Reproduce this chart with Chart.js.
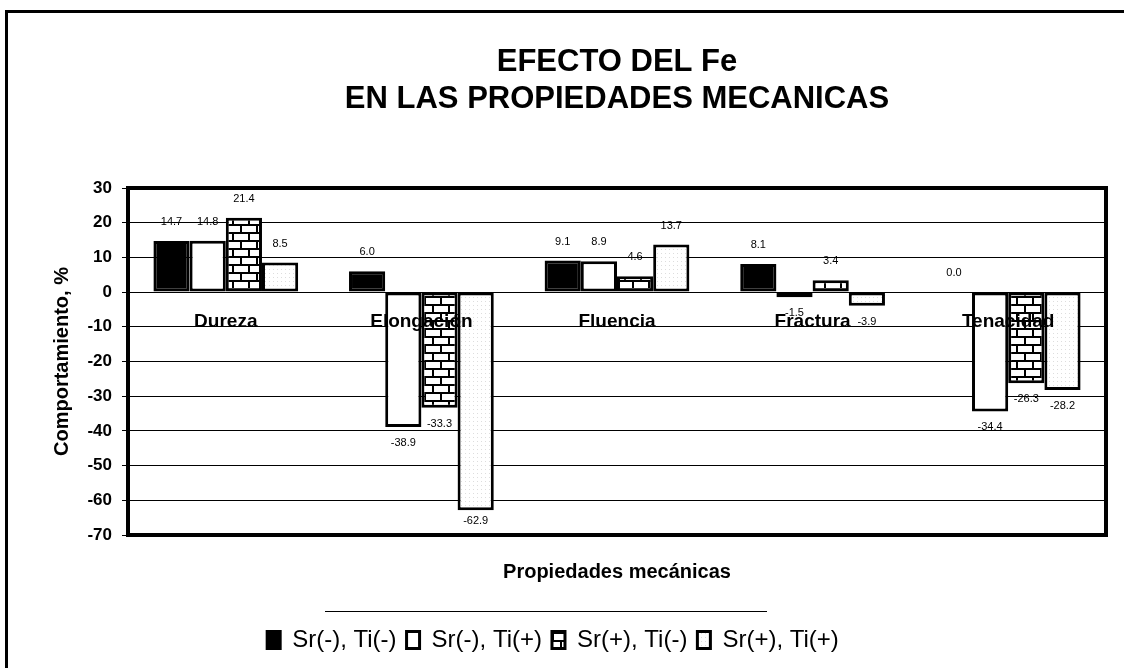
<!DOCTYPE html>
<html>
<head>
<meta charset="utf-8">
<script src="https://cdn.jsdelivr.net/npm/chart.js@4.4.0/dist/chart.umd.min.js"></script>
<style>
    html, body { margin: 0; padding: 0; background: #fff; overflow: hidden; }
    #wrap { position: relative; width: 1124px; height: 668px; }
    #frame { position: absolute; left: 5px; top: 10px; width: 1200px; height: 700px; border-top: 3px solid #000; border-left: 3px solid #000; }
    #legendRule { position: absolute; left: 325px; top: 611px; width: 442px; border-top: 1px solid #000; }
    canvas { position: absolute; left: 0; top: 0; }
</style>
</head>
<body>
<div id="wrap">
    <div id="frame"></div>
    <div id="legendRule"></div>
    <canvas id="feChart" width="1124" height="668"></canvas>
</div>
<script>
// Data
const categories = ['Dureza', 'Elongación', 'Fluencia', 'Fractura', 'Tenacidad'];
const seriesNames = ['Sr(-), Ti(-)', 'Sr(-), Ti(+)', 'Sr(+), Ti(-)', 'Sr(+), Ti(+)'];
const srMenosTiMenos = [14.7, 6.0, 9.1, 8.1, 0.0];
const srMenosTiMas = [14.8, -38.9, 8.9, -1.5, -34.4];
const srMasTiMenos = [21.4, -33.3, 4.6, 3.4, -26.3];
const srMasTiMas = [8.5, -62.9, 13.7, -3.9, -28.2];
const yMin = -70;
const yMax = 30;
const yStep = 10;

const FONT = "'Liberation Sans', Arial, sans-serif";

// Brick fill (Excel "brick" pattern)
function brickPattern() {
    const c = document.createElement('canvas');
    c.width = 16;
    c.height = 16;
    const g = c.getContext('2d');
    g.fillStyle = '#fff';
    g.fillRect(0, 0, 16, 16);
    g.fillStyle = '#000';
    g.fillRect(0, 0, 16, 2);
    g.fillRect(0, 8, 16, 2);
    g.fillRect(0, 2, 2, 6);
    g.fillRect(8, 10, 2, 6);
    return g.createPattern(c, 'repeat');
}

// Sparse dots fill
function dotPattern() {
    const c = document.createElement('canvas');
    c.width = 4;
    c.height = 4;
    const g = c.getContext('2d');
    g.fillStyle = '#fff';
    g.fillRect(0, 0, 4, 4);
    g.fillStyle = '#ddd';
    g.fillRect(1, 1, 1, 1);
    return g.createPattern(c, 'repeat');
}

const fills = ['#000', '#fff', brickPattern(), dotPattern()];
const seriesData = [srMenosTiMenos, srMenosTiMas, srMasTiMenos, srMasTiMas];

// Value labels, category names inside the plot and the heavy plot frame
const overlayPlugin = {
    id: 'overlay',
    afterDatasetsDraw(chart) {
        const ctx = chart.ctx;
        const area = chart.chartArea;
        const yScale = chart.scales.y;
        const xScale = chart.scales.x;
        ctx.save();

        // value labels
        ctx.fillStyle = '#000';
        ctx.font = '11px ' + FONT;
        ctx.textAlign = 'center';
        ctx.textBaseline = 'middle';
        chart.data.datasets.forEach((ds, i) => {
            const meta = chart.getDatasetMeta(i);
            meta.data.forEach((bar, j) => {
                const v = ds.data[j];
                let y = v >= 0 ? bar.y - 19 : bar.y + 16;
                y = Math.min(y, area.bottom - 14);
                ctx.fillText(v.toFixed(1), bar.x, y);
            });
        });

        // category names
        ctx.font = 'bold 19px ' + FONT;
        categories.forEach((c, i) => {
            ctx.fillText(c, xScale.getPixelForValue(i), yScale.getPixelForValue(-8.5));
        });

        // plot frame
        ctx.strokeStyle = '#000';
        ctx.lineWidth = 4;
        ctx.strokeRect(area.left, area.top, area.right - area.left, area.bottom - area.top);
        ctx.restore();
    }
};

const ctx = document.getElementById('feChart').getContext('2d');
new Chart(ctx, {
    type: 'bar',
    data: {
        labels: categories,
        datasets: seriesNames.map((name, i) => ({
            label: name,
            data: seriesData[i],
            backgroundColor: fills[i],
            borderColor: '#000',
            borderWidth: 3,
            borderSkipped: false,
            barPercentage: 1,
            categoryPercentage: 0.74
        }))
    },
    options: {
        responsive: false,
        animation: false,
        layout: { padding: { left: 0, right: 18, top: 0, bottom: 6 } },
        scales: {
            x: {
                grid: { display: false },
                border: { display: false },
                ticks: { display: false },
                title: {
                    display: true,
                    text: 'Propiedades mecánicas',
                    color: '#000',
                    font: { family: FONT, size: 20, weight: 'bold', lineHeight: 1.2 },
                    padding: { top: 0, bottom: 34 }
                },
                afterFit(scale) { scale.height = 83; }
            },
            y: {
                min: yMin,
                max: yMax,
                grid: { color: '#000', lineWidth: 1, tickLength: 6, drawTicks: true },
                border: { display: false },
                ticks: {
                    stepSize: yStep,
                    color: '#000',
                    padding: 10,
                    font: { family: FONT, size: 17, weight: 'bold' }
                },
                title: {
                    display: true,
                    text: 'Comportamiento, %',
                    color: '#000',
                    font: { family: FONT, size: 20, weight: 'bold', lineHeight: 1.2 },
                    padding: { top: 50, bottom: 0 }
                },
                afterFit(scale) { scale.width = 128; }
            }
        },
        plugins: {
            title: {
                display: true,
                fullSize: false,
                text: ['EFECTO DEL Fe', 'EN LAS PROPIEDADES MECANICAS'],
                color: '#000',
                font: { family: FONT, size: 31, weight: 'bold', lineHeight: '37px' },
                padding: { top: 44, bottom: 70 }
            },
            legend: {
                position: 'bottom',
                labels: {
                    color: '#000',
                    font: { family: FONT, size: 24 },
                    boxWidth: 13,
                    boxHeight: 17,
                    padding: 10
                }
            },
            tooltip: { enabled: false }
        }
    },
    plugins: [overlayPlugin]
});
</script>
</body>
</html>
